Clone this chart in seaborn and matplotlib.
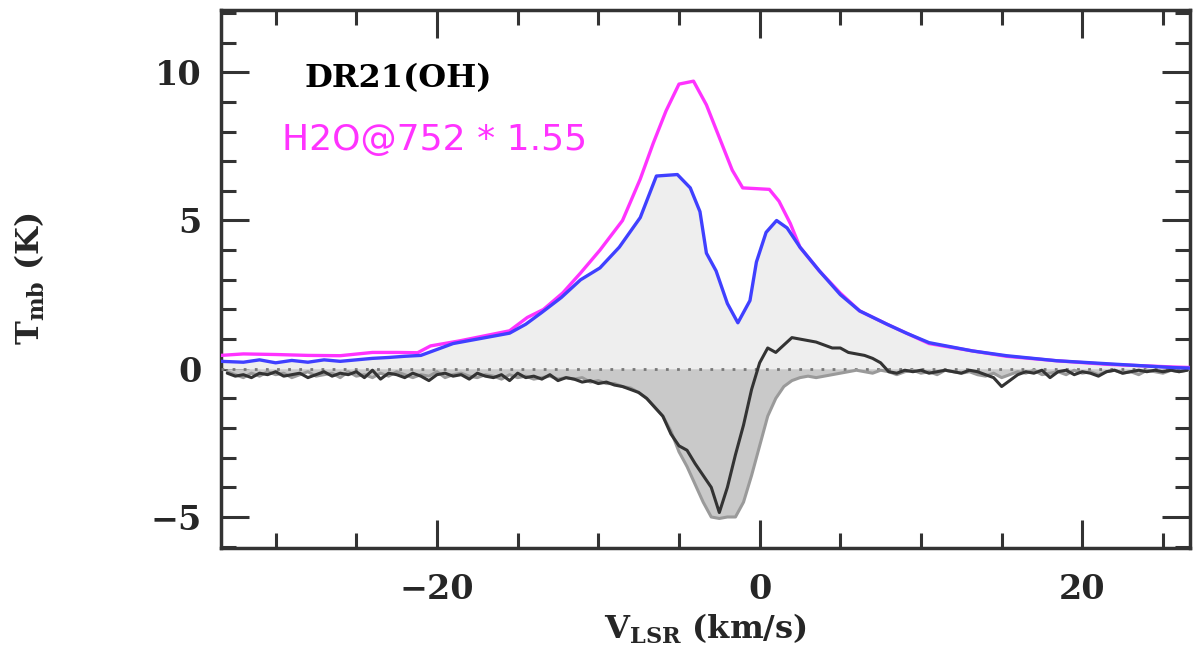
import numpy as np
import pandas as pd
import seaborn as sns
import matplotlib.pyplot as plt
from matplotlib.ticker import MultipleLocator

# emission spectra (km/s, K)
v_blue = [-33.4, -32, -31, -30, -29, -28, -27, -26, -25, -24, -23, -22, -21, -20, -19, -18, -17, -16,
          -15.5, -14.5, -13.5, -12.3, -11.1, -9.9, -8.7, -7.4, -6.4, -5.1, -4.3, -3.7, -3.3, -2.7, -2.0,
          -1.35, -0.6, -0.2, 0.4, 1.05, 1.7, 2.5, 3.7, 5.0, 6.2, 7.9, 9.1, 10.5, 13.2, 15.3, 18.4, 21.5,
          25.6, 26.8]
t_blue = [0.25, 0.22, 0.3, 0.2, 0.28, 0.22, 0.3, 0.25, 0.3, 0.35, 0.38, 0.42, 0.45, 0.65, 0.85, 0.95,
          1.05, 1.15, 1.2, 1.5, 1.9, 2.4, 3.0, 3.4, 4.1, 5.1, 6.5, 6.55, 6.1, 5.3, 3.9, 3.3, 2.2, 1.55,
          2.3, 3.6, 4.6, 5.0, 4.75, 4.1, 3.3, 2.5, 1.95, 1.5, 1.2, 0.88, 0.6, 0.44, 0.27, 0.17, 0.04, 0.02]

v_mag = [-33.4, -32, -30, -28, -26, -24, -22.5, -21.2, -20.4, -18.6, -16.5, -15.5, -14.4, -13.4, -12.2,
         -11.1, -9.9, -8.5, -7.4, -6.6, -5.8, -5.0, -4.1, -3.3, -2.5, -1.7, -1.05, 0.6, 1.2, 1.9, 2.5,
         3.7, 5.0, 6.2, 7.9, 9.1, 10.5, 13.2, 15.3, 18.4, 21.5, 25.6, 26.8]
t_mag = [0.45, 0.5, 0.48, 0.45, 0.44, 0.55, 0.55, 0.54, 0.77, 0.94, 1.17, 1.28, 1.73, 2.0, 2.56, 3.23,
         4.0, 5.0, 6.4, 7.6, 8.7, 9.6, 9.7, 8.9, 7.8, 6.7, 6.1, 6.05, 5.65, 4.9, 4.1, 3.3, 2.55, 1.95,
         1.5, 1.2, 0.85, 0.6, 0.42, 0.27, 0.15, 0.06, 0.04]

# absorption spectra, 0.5 km/s channels starting at -33 km/s
v0, dv = -33.0, 0.5
t_black = [-0.15, -0.25, -0.2, -0.3, -0.15, -0.2, -0.1, -0.25, -0.2, -0.15, -0.3, -0.2, -0.1, -0.25,
           -0.15, -0.2, -0.1, -0.3, -0.05, -0.35, -0.15, -0.2, -0.3, -0.15, -0.25, -0.4, -0.2, -0.15,
           -0.25, -0.2, -0.35, -0.15, -0.25, -0.3, -0.2, -0.4, -0.15, -0.3, -0.25, -0.35, -0.2, -0.4,
           -0.3, -0.35, -0.45, -0.4, -0.5, -0.45, -0.55, -0.6, -0.7, -0.8, -1.0, -1.3, -1.6, -2.2,
           -2.6, -2.75, -3.2, -3.6, -4.0, -4.85, -4.0, -2.9, -1.9, -0.7, 0.2, 0.7, 0.55, 0.8, 1.05,
           1.0, 0.95, 0.9, 0.8, 0.7, 0.7, 0.55, 0.5, 0.45, 0.35, 0.2, -0.1, -0.15, -0.05, -0.1, -0.05,
           -0.15, -0.1, -0.05, -0.1, -0.15, -0.05, -0.1, -0.2, -0.3, -0.6, -0.4, -0.2, -0.1, -0.15,
           -0.05, -0.3, -0.1, -0.05, -0.2, -0.1, -0.15, -0.25, -0.1, -0.05, -0.15, -0.1, -0.05, -0.1,
           -0.05, -0.1, -0.05, -0.1, -0.05]
t_gray = [-0.1, -0.2, -0.3, -0.15, -0.25, -0.1, -0.2, -0.15, -0.3, -0.2, -0.1, -0.25, -0.2, -0.15,
          -0.3, -0.1, -0.25, -0.2, -0.3, -0.15, -0.25, -0.1, -0.2, -0.3, -0.2, -0.25, -0.1, -0.3,
          -0.2, -0.15, -0.25, -0.3, -0.2, -0.25, -0.35, -0.2, -0.3, -0.25, -0.35, -0.3, -0.25, -0.35,
          -0.3, -0.35, -0.3, -0.45, -0.4, -0.5, -0.5, -0.6, -0.65, -0.8, -1.0, -1.3, -1.6, -2.1,
          -2.8, -3.3, -3.9, -4.5, -5.0, -5.05, -5.0, -5.0, -4.5, -3.6, -2.6, -1.6, -1.0, -0.6, -0.4,
          -0.3, -0.25, -0.3, -0.25, -0.2, -0.15, -0.1, -0.05, -0.1, -0.15, -0.05, -0.1, -0.2, -0.1,
          -0.05, -0.15, -0.1, -0.2, -0.05, -0.1, -0.15, -0.1, -0.2, -0.25, -0.15, -0.3, -0.2, -0.1,
          -0.15, -0.05, -0.2, -0.15, -0.1, -0.2, -0.05, -0.15, -0.1, -0.2, -0.1, -0.05, -0.15, -0.1,
          -0.2, -0.05, -0.1, -0.15, -0.05, -0.1, -0.05]
v_abs = v0 + dv * np.arange(len(t_black))
v_abs_g = v0 + dv * np.arange(len(t_gray))

blue = pd.DataFrame({"v": v_blue, "T": t_blue})
mag = pd.DataFrame({"v": v_mag, "T": t_mag})
black = pd.DataFrame({"v": v_abs, "T": t_black})
gray = pd.DataFrame({"v": v_abs_g, "T": t_gray})

sns.set_style("ticks")
plt.rcParams['font.family'] = ['DejaVu Serif']
plt.rcParams['font.weight'] = 'bold'
plt.rcParams['mathtext.fontset'] = 'dejavuserif'

fig = plt.figure(figsize=(12, 6.66), dpi=100)
ax = fig.add_axes([0.184, 0.177, 0.808, 0.808])

# fills first
ax.fill_between(blue["v"], blue["T"], 0, color="#eeeeee", lw=0, zorder=1)
ax.fill_between(gray["v"], gray["T"], 0, where=gray["T"] < 0, interpolate=True,
                color="#c9c9c9", lw=0, zorder=2)
ax.axhline(0, color="#777777", ls=(0, (1, 3)), lw=2, zorder=3)

sns.lineplot(data=gray, x="v", y="T", ax=ax, color="#9a9a9a", lw=2.2, estimator=None, sort=False, zorder=4)
sns.lineplot(data=black, x="v", y="T", ax=ax, color="#333333", lw=2.2, estimator=None, sort=False, zorder=5)
sns.lineplot(data=mag, x="v", y="T", ax=ax, color="#ff33ff", lw=2.4, estimator=None, sort=False, zorder=6)
sns.lineplot(data=blue, x="v", y="T", ax=ax, color="#4040ff", lw=2.4, estimator=None, sort=False, zorder=7)

ax.set_xlim(-33.4, 26.7)
ax.set_ylim(-6.05, 12.1)

ax.xaxis.set_major_locator(MultipleLocator(20))
ax.xaxis.set_minor_locator(MultipleLocator(5))
ax.yaxis.set_major_locator(MultipleLocator(5))
ax.yaxis.set_minor_locator(MultipleLocator(1))
ax.tick_params(which="both", direction="in", top=True, right=True, width=2.2, color="#333333",
               labelsize=24)
ax.tick_params(axis="x", pad=18)
ax.tick_params(axis="y", pad=14)
ax.tick_params(which="major", length=20)
ax.tick_params(which="minor", length=11)
for s in ax.spines.values():
    s.set_linewidth(2.5)
    s.set_color("#333333")

ax.set_xlabel(r"V$_{\mathbf{LSR}}$ (km/s)", fontsize=23, fontweight="bold", labelpad=4)
ax.set_ylabel(r"T$_{\mathbf{mb}}$ (K)", fontsize=23, fontweight="bold", labelpad=74)

ax.text(-28.2, 9.8, "DR21(OH)", fontsize=23, fontweight="bold", color="black", va="center")
ax.text(-29.6, 7.7, "H2O@752 * 1.55", fontsize=26, fontweight="normal", color="#ff33ff", va="center",
        family="DejaVu Sans")

fig.savefig("out.png", dpi=100)
